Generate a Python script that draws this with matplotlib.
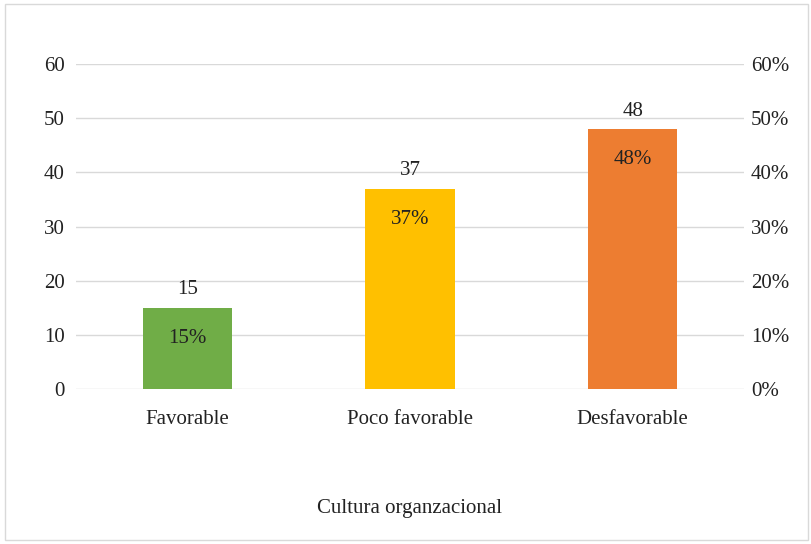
import matplotlib
matplotlib.use("Agg")
import matplotlib.pyplot as plt
from matplotlib.patches import Rectangle
from matplotlib.ticker import FuncFormatter

categories = ["Favorable", "Poco favorable", "Desfavorable"]
counts = [15, 37, 48]
percents = [15, 37, 48]
colors = ["#70AD47", "#FFC000", "#ED7D31"]
y_ticks = [0, 10, 20, 30, 40, 50, 60]
x_title = "Cultura organzacional"

plt.rcParams["font.family"] = ["Liberation Serif", "DejaVu Serif"]
FS = 15

W, H = 812, 544
fig = plt.figure(figsize=(W / 100, H / 100), dpi=100)
fig.patch.set_facecolor("white")
fig.add_artist(Rectangle((5 / W, 4 / H), 803 / W, 536 / H, transform=fig.transFigure,
                         fill=False, edgecolor="#D9D9D9", linewidth=1.0))

ax = fig.add_axes([76 / W, (H - 389) / H, (744 - 76) / W, (389 - 64) / H])
x = list(range(len(categories)))
ax.bar(x, counts, width=0.4, color=colors, zorder=3)
ax.set_xlim(-0.5, len(categories) - 0.5)
ax.set_ylim(0, 60)
ax.set_yticks(y_ticks)
ax.grid(axis="y", color="#D9D9D9", linewidth=1.0, zorder=0)
for s in ax.spines.values():
    s.set_visible(False)
ax.tick_params(axis="y", length=0, pad=8, labelsize=FS, colors="#222222")
ax.tick_params(axis="x", length=0, pad=15, labelsize=FS, colors="#222222")
ax.set_xticks(x)
ax.set_xticklabels(categories)

for xi, c, p in zip(x, counts, percents):
    ax.annotate(f"{c}", (xi, c), xytext=(0, 6), textcoords="offset points",
                ha="center", va="bottom", fontsize=FS, color="#222222")
    ax.annotate(f"{p}%", (xi, c), xytext=(0, -22), textcoords="offset points",
                ha="center", va="center", fontsize=FS, color="#222222")

ax2 = ax.twinx()
ax2.set_ylim(0, 0.6)
ax2.set_yticks([t / 100 for t in y_ticks])
ax2.yaxis.set_major_formatter(FuncFormatter(lambda v, _: f"{round(v * 100)}%"))
for s in ax2.spines.values():
    s.set_visible(False)
ax2.tick_params(axis="y", length=0, pad=5, labelsize=FS, colors="#222222")

fig.text((76 + 744) / 2 / W, 1 - 508 / H, x_title, ha="center", va="center",
         fontsize=FS, color="#222222")

fig.savefig("out.png", dpi=100)
